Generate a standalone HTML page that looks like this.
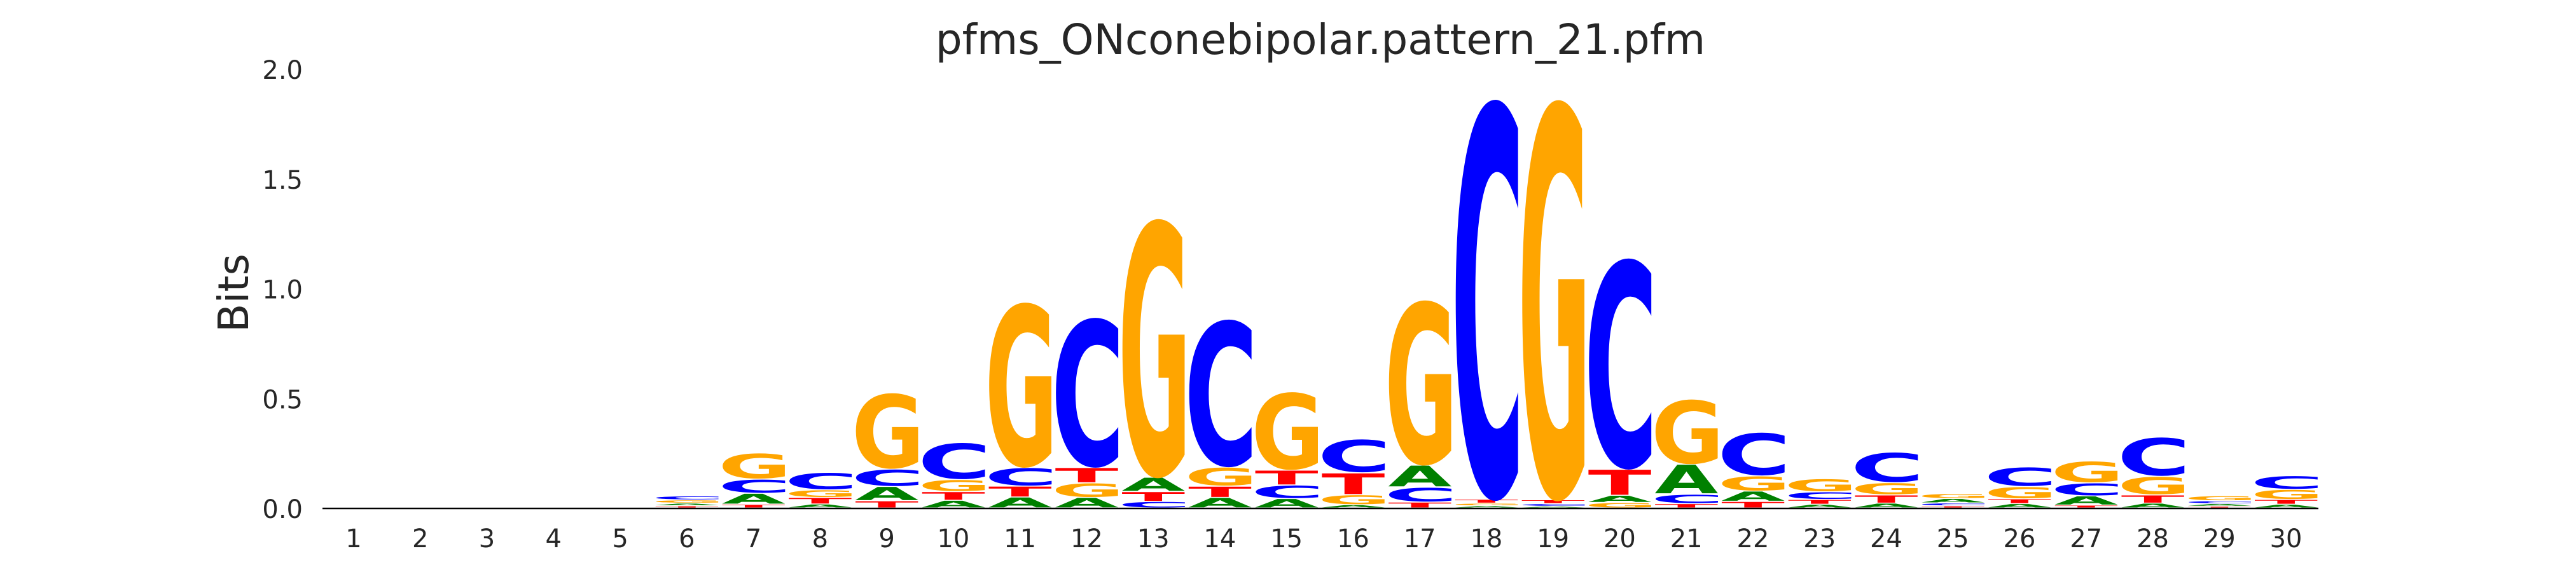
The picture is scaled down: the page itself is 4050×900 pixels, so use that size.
<!DOCTYPE html>
<html><head><meta charset="utf-8"><style>
html,body{margin:0;padding:0;background:#fff;overflow:hidden;width:4050px;height:900px;}
svg{display:block;}
text{font-family:"DejaVu Sans","Liberation Sans",sans-serif;}
</style></head><body>
<svg id="chart" width="4050" height="900" viewBox="0 0 4050 900" xmlns="http://www.w3.org/2000/svg" overflow="hidden">
<text x="2076" y="85" font-size="66" fill="#262626" text-anchor="middle">pfms_ONconebipolar.pattern_21.pfm</text>
<text transform="translate(390,461) rotate(-90)" font-size="66" fill="#262626" text-anchor="middle">Bits</text>
<g id="yticks"></g>
<g id="xticks"></g>
<g id="glyphs"></g>
<line x1="507" y1="800" x2="3645" y2="800" stroke="#000" stroke-width="2.5"/>
</svg>
<script>
const positions = [1,2,3,4,5,6,7,8,9,10,11,12,13,14,15,16,17,18,19,20,21,22,23,24,25,26,27,28,29,30];
const bitsA = [0,0,0,0,0,0.012,0.05,0.018,0.065,0.035,0.05,0.048,0.065,0.048,0.043,0.015,0.1,0.01,0.008,0.033,0.136,0.047,0.017,0.022,0.02,0.02,0.042,0.022,0.012,0.017];
const bitsC = [0,0,0,0,0,0.018,0.065,0.08,0.08,0.17,0.085,0.69,0.03,0.68,0.062,0.155,0.068,1.84,0.012,0.97,0.043,0.2,0.035,0.14,0.013,0.09,0.06,0.18,0.013,0.063];
const bitsG = [0,0,0,0,0,0.015,0.12,0.035,0.35,0.055,0.76,0.067,1.19,0.087,0.36,0.046,0.76,0.012,1.84,0.025,0.3,0.07,0.06,0.056,0.023,0.056,0.1,0.085,0.023,0.046];
const bitsT = [0,0,0,0,0,0.01,0.017,0.03,0.033,0.04,0.05,0.07,0.045,0.052,0.068,0.1,0.027,0.018,0.018,0.12,0.02,0.03,0.022,0.038,0.01,0.022,0.013,0.038,0.008,0.022];
const yTicks = [0.0,0.5,1.0,1.5,2.0];
const yTickLabels = ["0.0","0.5","1.0","1.5","2.0"];

const NS = "http://www.w3.org/2000/svg";
const x0 = 556, step = 104.76, y0 = 800, pxPerBit = 345.5;
function xScale(p){ return x0 + (p-1)*step; }
function yScale(b){ return y0 - b*pxPerBit; }
const colors = {A:"#008000",C:"#0000ff",G:"#ffa500",T:"#ff0000"};

const cv = document.createElement("canvas").getContext("2d");
cv.font = "bold 100px 'DejaVu Sans'";
const metrics = {};
["A","C","G","T"].forEach(l=>{
  const m = cv.measureText(l);
  metrics[l] = {L:m.actualBoundingBoxLeft, R:m.actualBoundingBoxRight, A:m.actualBoundingBoxAscent, D:m.actualBoundingBoxDescent};
});

const yt = document.getElementById("yticks");
yTicks.forEach((v,i)=>{
  const t = document.createElementNS(NS,"text");
  
  
  t.setAttribute("x", 476);
  t.setAttribute("y", yScale(v)+15);
  t.setAttribute("font-size", 40);
  t.setAttribute("fill", "#262626");
  t.setAttribute("text-anchor", "end");
  t.textContent = yTickLabels[i];
  yt.appendChild(t);
});
const xt = document.getElementById("xticks");
positions.forEach(p=>{
  const t = document.createElementNS(NS,"text");
  
  
  t.setAttribute("x", xScale(p));
  t.setAttribute("y", 861);
  t.setAttribute("font-size", 40);
  t.setAttribute("fill", "#262626");
  t.setAttribute("text-anchor", "middle");
  t.textContent = String(p);
  xt.appendChild(t);
});

const g = document.getElementById("glyphs");
const glyphW = 0.95*step;
positions.forEach((p,i)=>{
  const items = [["A",bitsA[i]],["C",bitsC[i]],["G",bitsG[i]],["T",bitsT[i]]].filter(d=>d[1]>0);
  items.sort((a,b)=>a[1]-b[1]);
  let cum = 0;
  items.forEach(([l,h])=>{
    const top = yScale(cum+h), bot = yScale(cum);
    cum += h;
    const bh = Math.max(0.5, bot-top-1.5);
    const m = metrics[l];
    const sx = glyphW/(m.L+m.R), sy = bh/(m.A+m.D);
    const bx = xScale(p)-glyphW/2;
    const t = document.createElementNS(NS,"text");
    
    
    t.setAttribute("font-size", 100);
    t.setAttribute("font-weight", "bold");
    t.setAttribute("fill", colors[l]);
    t.setAttribute("transform", `translate(${bx},${top}) scale(${sx},${sy}) translate(${m.L},${m.A})`);
    t.textContent = l;
    g.appendChild(t);
  });
});
</script>
</body></html>
